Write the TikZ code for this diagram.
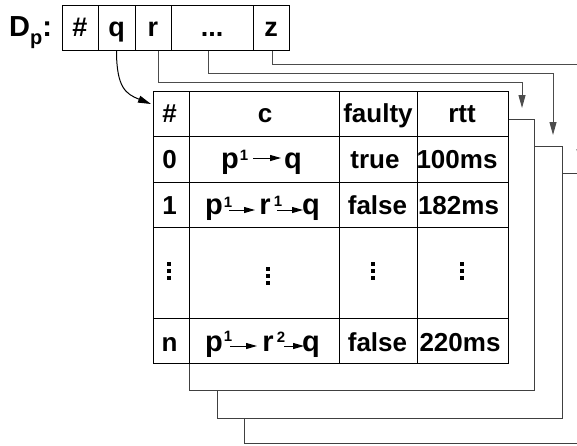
\documentclass[tikz,border=0pt]{standalone}
\usepackage{fontspec}
\setmainfont{Liberation Sans}
\usetikzlibrary{arrows.meta}
\tikzset{
  x=1pt, y=-1pt,
  cell/.style={draw=black, line width=1pt, minimum height=45pt, inner sep=0pt,
    font=\bfseries\fontsize{27}{31}\selectfont, text height=17pt, text depth=0pt},
  backbox/.style={draw=black!75, line width=1pt, fill=white, inner sep=0pt, anchor=north west},
  txt/.style={inner sep=0pt, anchor=base, font=\bfseries\fontsize{26}{30}\selectfont},
  tok/.style={inner sep=0pt, anchor=base, font=\bfseries\fontsize{29}{33}\selectfont},
  supt/.style={inner sep=0pt, anchor=base, font=\bfseries\fontsize{15}{18}\selectfont},
  conn/.style={draw=black!70, line width=1pt},
  bigtip/.style={-{Triangle[length=13pt,width=7pt]}},
  sarr/.style={draw=black, line width=1pt, -{Triangle[length=11pt,width=6pt]}},
  grid line/.style={draw=black, line width=1pt}
}
\begin{document}
\begin{tikzpicture}
\path[use as bounding box] (0,0) rectangle (577,445);
\clip (0,0) rectangle (577,445);

% label
\node[inner sep=0pt, anchor=base west, font=\bfseries\fontsize{29}{33}\selectfont] (dp) at (9,36)
  {D\raisebox{-8pt}{\fontsize{20}{22}\selectfont p}:};

% top array
\node[cell, minimum width=36pt] (h0) at (80,27.5) {\#};
\node[cell, minimum width=37pt] (hq) at (116.5,27.5) {q};
\node[cell, minimum width=36pt] (hr) at (153,27.5) {r};
\node[cell, minimum width=82pt] (hd) at (212,27.5) {...};
\node[cell, minimum width=36pt] (hz) at (271,27.5) {z};

% stacked tables (back to front)
\node[backbox, minimum width=346pt, minimum height=270pt] (t4) at (244,173) {};
\node[backbox, minimum width=345pt, minimum height=272pt] (t3) at (217,146) {};
\node[backbox, minimum width=345pt, minimum height=271pt] (t2) at (189,119) {};
\node[backbox, draw=black, minimum width=355pt, minimum height=272pt] (t1) at (153,91) {};

% grid of front table
\foreach \xx in {189,339,417} \draw[grid line] (\xx,91) -- (\xx,363);
\foreach \yy in {136,182,227,318} \draw[grid line] (153,\yy) -- (508,\yy);

% header row
\node[txt] (c00) at (169.5,122) {\#};
\node[txt] (c01) at (265,122) {c};
\node[txt] (c02) at (378,122) {faulty};
\node[txt] (c03) at (462,122) {rtt};
% row 0
\node[txt] (c10) at (169.5,168) {0};
\node[txt] (c12) at (375,168) {true};
\node[txt] (c13) at (457,168) {100ms};
% row 1
\node[txt] (c20) at (169.5,214) {1};
\node[txt] (c22) at (377.5,214) {false};
\node[txt] (c23) at (458.5,214) {182ms};
% row n
\node[txt] (c40) at (169.5,351) {n};
\node[txt] (c42) at (377.5,351) {false};
\node[txt] (c43) at (460,351) {220ms};

% dots row
\foreach \xx/\yy in {169/262, 268/267, 373/262, 462/262}
  \foreach \d in {0,7,14}
    \fill (\xx-2,\yy+\d) rectangle (\xx+2,\yy+\d+4);

% c column, row 0
\node[tok] (p0) at (230,168) {p};
\node[supt] (p0s) at (244,160) {1};
\node[tok] (q0) at (293,168) {q};
\coordinate (a0s) at (253,158);
\coordinate (a0e) at (281,158);
\draw[sarr] (a0s) -- (a0e);

% c column, row 1
\node[tok] (p1) at (214,214) {p};
\node[supt] (p1s) at (228,207) {1};
\node[tok] (r1) at (265,214) {r};
\node[supt] (r1s) at (278,206) {1};
\node[tok] (q1) at (311,214) {q};
\coordinate (a1s) at (229,210);
\coordinate (a1e) at (255,210);
\coordinate (b1s) at (277,210);
\coordinate (b1e) at (303,210);
\draw[sarr] (a1s) -- (a1e);
\draw[sarr] (b1s) -- (b1e);

% c column, row n
\node[tok] (p4) at (214,351) {p};
\node[supt] (p4s) at (228,341) {1};
\node[tok] (r4) at (268,351) {r};
\node[supt] (r4s) at (281,342) {2};
\node[tok] (q4) at (311,351) {q};
\coordinate (a4s) at (230,346);
\coordinate (a4e) at (257,346);
\coordinate (b4s) at (284,346);
\coordinate (b4e) at (304,346);
\draw[sarr] (a4s) -- (a4e);
\draw[sarr] (b4s) -- (b4e);

% connectors from the top array
\draw[draw=black, line width=1pt, bigtip] (hq.south) .. controls (116.5,88) and (126,94) .. (151,104);
\coordinate (rk) at (522,82);
\coordinate (rt) at (522,108);
\draw[conn, bigtip] ([xshift=5pt]hr.south) |- (rk) -- (rt);
\coordinate (dk) at (553,73);
\coordinate (dt) at (553,135);
\draw[conn, bigtip] ([xshift=-4pt]hd.south) |- (dk) -- (dt);
\coordinate (zk) at (580,64);
\coordinate (zt) at (580,162);
\draw[conn, bigtip] ([xshift=1pt]hz.south) |- (zk) -- (zt);
\end{tikzpicture}
\end{document}
